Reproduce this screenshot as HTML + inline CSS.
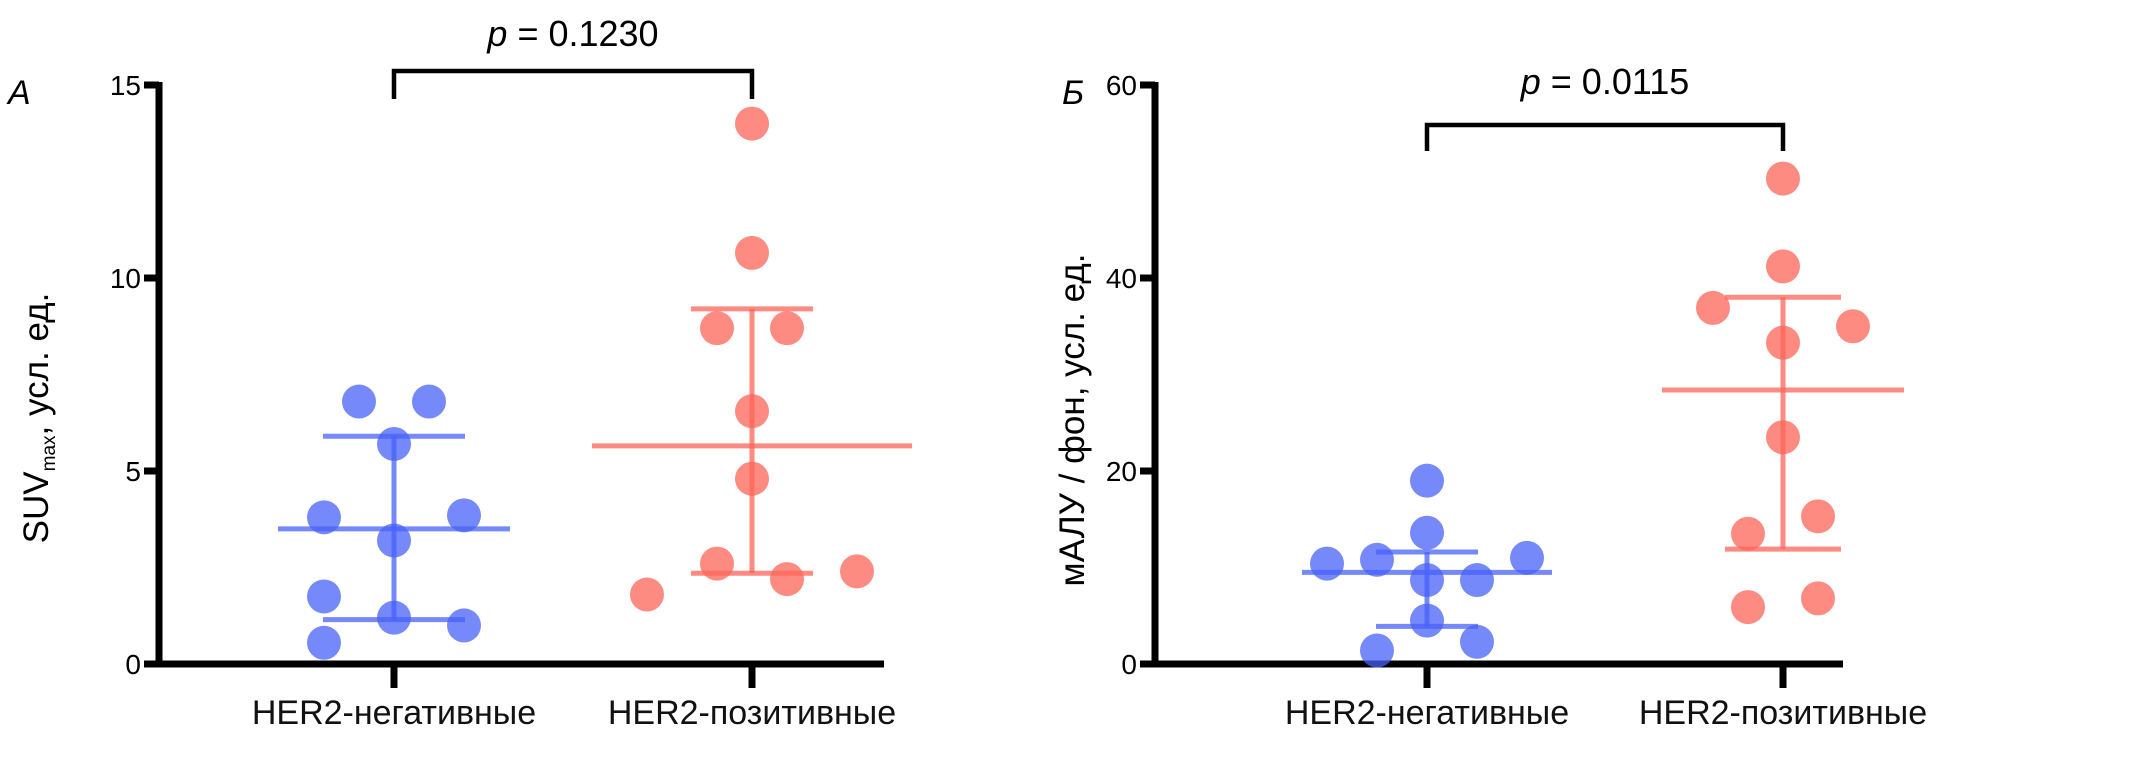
<!DOCTYPE html>
<html><head><meta charset="utf-8"><style>
html,body{margin:0;padding:0;background:#fff;}
svg{display:block;font-family:"Liberation Sans","DejaVu Sans",sans-serif;}
</style></head><body>
<svg id="chart" width="2131" height="780" viewBox="0 0 2131 780" xmlns="http://www.w3.org/2000/svg">
<g id="panelA"></g>
<g id="panelB"></g>
</svg>
<script>
// Shared
const categories = ["HER2-негативные", "HER2-позитивные"];
// Panel A (SUVmax)
const aTicks = [0, 5, 10, 15];
const aNegValues = [6.8, 6.8, 5.7, 3.8, 3.85, 3.2, 1.75, 1.2, 1.0, 0.55];
const aNegJitter = [-1, 1, 0, -2, 2, 0, -2, 0, 2, -2];
const aPosValues = [14, 10.65, 8.7, 8.7, 6.55, 4.8, 2.6, 2.2, 2.4, 1.8];
const aPosJitter = [0, 0, -1, 1, 0, 0, -1, 1, 3, -3];
const aNegStats = [3.5, 5.9, 1.15]; // mean, upper, lower
const aPosStats = [5.65, 9.2, 2.35];
const aP = "p = 0.1230";
// Panel B (мАЛУ/фон)
const bTicks = [0, 20, 40, 60];
const bNegValues = [19, 13.6, 10.4, 10.8, 8.7, 8.7, 11, 4.5, 2.3, 1.4];
const bNegJitter = [0, 0, -2, -1, 0, 1, 2, 0, 1, -1];
const bPosValues = [50.3, 41.2, 36.9, 33.3, 35, 23.5, 15.3, 13.5, 6.8, 5.9];
const bPosJitter = [0, 0, -2, 0, 2, 0, 1, -1, 1, -1];
const bNegStats = [9.5, 11.6, 3.9];
const bPosStats = [28.4, 38, 11.9];
const bP = "p = 0.0115";

const NS = "http://www.w3.org/2000/svg";
function mk(parent, tag, attrs, text){
  const e = document.createElementNS(NS, tag);
  for (const k in attrs) e.setAttribute(k, attrs[k]);
  if (text !== undefined) e.textContent = text;
  parent.appendChild(e);
  return e;
}
const BLUE = "rgba(72,98,250,0.75)", RED = "rgba(252,100,88,0.75)";

function panel(g, cfg){
  const y = v => cfg.y0 - (v - cfg.min) / (cfg.max - cfg.min) * (cfg.y0 - cfg.yTop);
  const xc = i => cfg.groupX[i];
  let e = mk(g, "line", {x1: cfg.ax, y1: cfg.yTop - 3, x2: cfg.ax, y2: cfg.y0 + 3, stroke: "#000", "stroke-width": 7});
  
  
  e = mk(g, "line", {x1: cfg.ax - 15, y1: cfg.y0, x2: cfg.axEnd, y2: cfg.y0, stroke: "#000", "stroke-width": 7});
  
  
  cfg.ticks.forEach(t => {
    let l = mk(g, "line", {x1: cfg.ax - 15, y1: y(t), x2: cfg.ax, y2: y(t), stroke: "#000", "stroke-width": 7});
    
    
    let tx = mk(g, "text", {x: cfg.ax - 18, y: y(t) + 10, "text-anchor": "end", "font-size": 28, fill: "#000"}, String(t));
    
    
  });
  categories.forEach((c, i) => {
    let l = mk(g, "line", {x1: xc(i), y1: cfg.y0, x2: xc(i), y2: cfg.y0 + 24, stroke: "#000", "stroke-width": 7});
    
    
    let tx = mk(g, "text", {x: xc(i), y: cfg.y0 + 60, "text-anchor": "middle", "font-size": 34, fill: "#111"}, c);
    
    
  });
  const yt = mk(g, "text", {x: 0, y: 0, transform: `translate(${cfg.titleX},${cfg.titleY}) rotate(-90)`, "text-anchor": "middle", "font-size": 35, fill: "#000"});
  
  
  if (cfg.sub) {
    mk(yt, "tspan", {}, "SUV");
    mk(yt, "tspan", {"font-size": 19, dy: 7}, "max");
    mk(yt, "tspan", {dy: -7}, ", усл. ед.");
  } else yt.textContent = cfg.title;
  const L = mk(g, "text", {x: cfg.letterX, y: cfg.letterY, "font-size": 34, "font-style": "italic", fill: "#000"}, cfg.letter);
  
  
  const series = [[cfg.neg, cfg.negJ, BLUE, "negative", cfg.jitN], [cfg.pos, cfg.posJ, RED, "positive", cfg.jitP]];
  series.forEach(([vals, jit, col, nm, step], gi) => {
    vals.forEach((v, k) => {
      const d = mk(g, "circle", {cx: xc(gi) + jit[k] * step, cy: y(v), r: 17, fill: col});
      
      
    });
  });
  const stats = [[cfg.negS, BLUE, "negative", cfg.negW], [cfg.posS, RED, "positive", cfg.posW]];
  stats.forEach(([s, col, nm, w], gi) => {
    const sg = mk(g, "g", {stroke: col, "stroke-width": 5});
    
    
    mk(sg, "line", {x1: xc(gi), y1: y(s[1]), x2: xc(gi), y2: y(s[2])});
    mk(sg, "line", {x1: xc(gi) - w[0], y1: y(s[0]), x2: xc(gi) + w[0], y2: y(s[0])});
    mk(sg, "line", {x1: xc(gi) - w[1], y1: y(s[1]), x2: xc(gi) + w[1], y2: y(s[1])});
    mk(sg, "line", {x1: xc(gi) - w[1], y1: y(s[2]), x2: xc(gi) + w[1], y2: y(s[2])});
  });
  const br = mk(g, "path", {d: `M${xc(0)},${cfg.brBot} V${cfg.brTop} H${xc(1)} V${cfg.brBot}`, fill: "none", stroke: "#000", "stroke-width": 4.5});
  
  
  const pt = mk(g, "text", {x: (xc(0) + xc(1)) / 2, y: cfg.pY, "text-anchor": "middle", "font-size": 36, fill: "#000"});
  
  
  mk(pt, "tspan", {"font-style": "italic"}, "p");
  mk(pt, "tspan", {}, cfg.p.slice(1));
}

panel(document.getElementById("panelA"), {
  ax: 159, axEnd: 884, y0: 664, yTop: 85, min: 0, max: 15, ticks: aTicks,
  groupX: [394, 752], jitN: 35, jitP: 35, neg: aNegValues, negJ: aNegJitter, pos: aPosValues, posJ: aPosJitter,
  negS: aNegStats, posS: aPosStats, negW: [116, 71], posW: [160, 61],
  brTop: 71, brBot: 99, pY: 46, p: aP, sub: true, titleX: 48, titleY: 418,
  letter: "A", letterX: 8, letterY: 104
});
panel(document.getElementById("panelB"), {
  ax: 1155, axEnd: 1843, y0: 664, yTop: 85, min: 0, max: 60, ticks: bTicks,
  groupX: [1427, 1783], jitN: 50, jitP: 35, neg: bNegValues, negJ: bNegJitter, pos: bPosValues, posJ: bPosJitter,
  negS: bNegStats, posS: bPosStats, negW: [125, 51], posW: [121, 58],
  brTop: 125, brBot: 151, pY: 94, p: bP, sub: false, title: "мАЛУ / фон, усл. ед.", titleX: 1084, titleY: 420,
  letter: "Б", letterX: 1062, letterY: 104
});
</script>
</body></html>
